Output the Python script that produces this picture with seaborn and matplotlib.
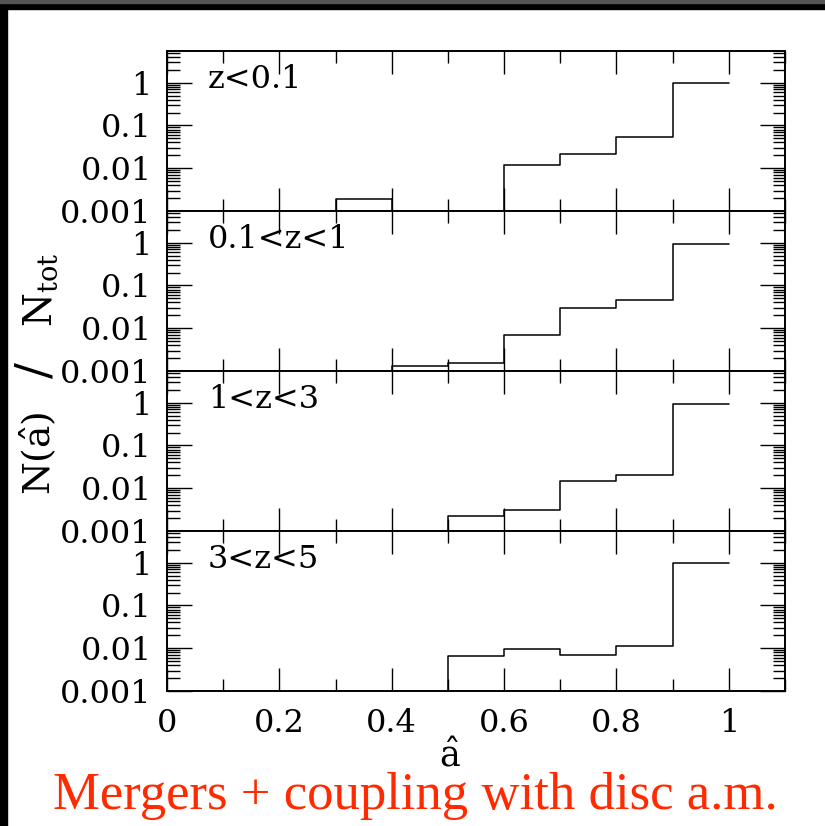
import numpy as np
import pandas as pd
import matplotlib
matplotlib.use("Agg")
import matplotlib.pyplot as plt
from matplotlib.ticker import FixedLocator, LogLocator, NullFormatter, MultipleLocator
import seaborn as sns

sns.set_theme(style="white")
plt.rcParams['font.family'] = ['DejaVu Serif', 'DejaVu Sans']
plt.rcParams['mathtext.fontset'] = 'dejavuserif'

# ---- data ----
bin_edges = [0.0, 0.1, 0.2, 0.3, 0.4, 0.5, 0.6, 0.7, 0.8, 0.9, 1.0]
bin_centers = [0.05, 0.15, 0.25, 0.35, 0.45, 0.55, 0.65, 0.75, 0.85, 0.95]
panel_labels = ["z<0.1", "0.1<z<1", "1<z<3", "3<z<5"]
frac_z0 = [0, 0, 0, 0.0019, 0, 0, 0.0117, 0.022, 0.055, 0.96]
frac_z1 = [0, 0, 0, 0, 0.0013, 0.00156, 0.0071, 0.030, 0.046, 0.93]
frac_z3 = [0, 0, 0, 0, 0, 0.0023, 0.0031, 0.0146, 0.020, 0.95]
frac_z5 = [0, 0, 0, 0, 0, 0.0065, 0.0095, 0.0070, 0.0113, 0.98]
series = [frac_z0, frac_z1, frac_z3, frac_z5]
ytick_vals = [0.001, 0.01, 0.1, 1]
ytick_labels = ["0.001", "0.01", "0.1", "1"]
xtick_vals = [0, 0.2, 0.4, 0.6, 0.8, 1.0]
xtick_labels = ["0", "0.2", "0.4", "0.6", "0.8", "1"]

W, H = 825, 826
fig = plt.figure(figsize=(W / 100, H / 100), dpi=100)
fig.patch.set_facecolor("white")

left_px, right_px, top_px, ph = 167, 785, 51, 160
axes = []
for i, (lab, vals) in enumerate(zip(panel_labels, series)):
    top = top_px + i * ph
    ax = fig.add_axes([left_px / W, 1 - (top + ph) / H, (right_px - left_px) / W, ph / H])
    axes.append(ax)
    df = pd.DataFrame({"x": bin_centers, "w": vals})
    sns.histplot(data=df, x="x", weights="w", bins=bin_edges, element="step",
                 fill=False, color="black", linewidth=1.1, ax=ax)
    ax.set_yscale("log")
    ax.set_xlim(0, 1.1)
    ax.set_ylim(1e-3, 5.5)
    ax.set_facecolor("white")
    for s in ax.spines.values():
        s.set_color("black")
        s.set_linewidth(1.4)
    ax.yaxis.set_major_locator(FixedLocator(ytick_vals))
    ax.set_yticklabels(ytick_labels)
    ax.yaxis.set_minor_locator(LogLocator(base=10, subs=np.arange(2, 10)))
    ax.yaxis.set_minor_formatter(NullFormatter())
    ax.xaxis.set_major_locator(FixedLocator(xtick_vals))
    ax.xaxis.set_minor_locator(MultipleLocator(0.1))
    ax.tick_params(axis="both", which="both", direction="in", top=True, right=True,
                   left=True, bottom=True, color="black", width=1.0)
    ax.tick_params(axis="y", which="major", length=18, labelsize=23, pad=11, labelcolor="black")
    ax.tick_params(axis="y", which="minor", length=9)
    ax.tick_params(axis="x", which="major", length=16.5, labelsize=23, pad=12, labelcolor="black")
    ax.tick_params(axis="x", which="minor", length=8.5)
    ax.set_xlabel("")
    ax.set_ylabel("")
    if i < 3:
        ax.set_xticklabels([])
    else:
        ax.set_xticklabels(xtick_labels)
    ax.text(0.066, 0.77, lab, transform=ax.transAxes, fontsize=23, ha="left",
            va="baseline", color="black")

# y label in three pieces (big slash as in the original)
fig.text(38 / W, 1 - 453 / H, r"N($\hat{\mathrm{a}}$)", rotation=90,
         ha="center", va="center", fontsize=27, color="black")
fig.text(36 / W, 1 - 370 / H, "/", rotation=90,
         ha="center", va="center", fontsize=34, color="black")
fig.text(41 / W, 1 - 290 / H, r"N$_{\rm tot}$", rotation=90,
         ha="center", va="center", fontsize=28, color="black")

fig.text(450 / W, 1 - 756 / H, r"$\hat{\mathrm{a}}$", ha="center", va="center",
         fontsize=25, color="black")
fig.text(415 / W, 1 - 809 / H, "Mergers + coupling with disc a.m.", ha="center",
         va="baseline", fontsize=38, color="#ff2a00", family=["Liberation Serif", "DejaVu Serif"])

# dark screenshot frame
fig.patches.append(plt.Rectangle((0, 1 - 9 / H), 1, 9 / H, transform=fig.transFigure,
                                 color="black", zorder=10))
fig.patches.append(plt.Rectangle((0, 1 - 3 / H), 1, 3 / H, transform=fig.transFigure,
                                 color="#555555", zorder=11))
fig.patches.append(plt.Rectangle((0, 0), 7 / W, 1, transform=fig.transFigure,
                                 color="black", zorder=10))

fig.savefig("out.png", dpi=100)
